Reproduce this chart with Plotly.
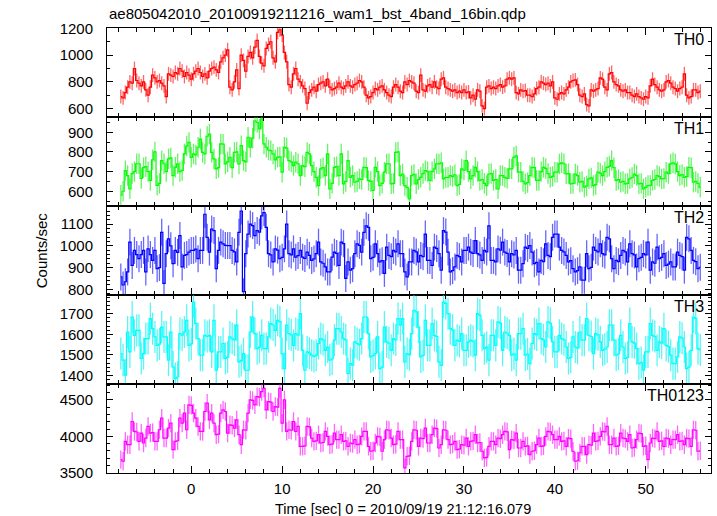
import numpy as np
import plotly.graph_objects as go
from plotly.subplots import make_subplots

# ---------------- data (0.25 s bins, first bin centre -7.75 s) ----------------
t_start = -7.75
bin_width = 0.25

th0 = [690, 680, 720, 760, 800, 790, 900, 810, 790, 770, 800, 740, 700, 760, 850, 830,
       800, 810, 790, 770, 690, 860, 850, 840, 870, 860, 900, 880, 840, 870, 850, 820,
       860, 880, 900, 870, 840, 860, 830, 880, 900, 910, 890, 870, 950, 980, 1000, 1040,
       760, 740, 800, 890, 750, 1000, 960, 880, 990, 1020, 980, 1060, 1110, 990, 940, 920,
       1050, 1080, 1100, 980, 950, 1170, 1190, 1150, 1020, 950, 780, 760, 860, 900, 820, 800,
       770, 750, 640, 720, 740, 760, 730, 780, 790, 800, 770, 820, 760, 740, 750, 760,
       790, 760, 750, 770, 800, 770, 760, 780, 790, 810, 800, 760, 700, 680, 690, 720,
       750, 740, 760, 770, 740, 720, 700, 690, 760, 780, 760, 730,
       720, 800, 780, 810, 800, 790, 730, 720, 850, 740, 730, 770, 780, 760, 800, 760,
       750, 820, 830, 760, 750, 740, 730, 740, 720, 730, 720, 740, 720, 725, 680, 700,
       670, 740, 730, 620, 600, 760, 770, 750, 760, 750, 770, 780, 760, 770, 820, 830,
       820, 830, 720, 710, 740, 730, 735, 700, 700, 690, 710, 750, 760, 800, 790, 780,
       790, 770, 800, 680, 670, 710, 720, 710, 740, 760, 800, 810, 815, 780, 700, 690,
       710, 630, 620, 740, 730, 740, 750, 830, 820, 760, 740, 860, 870, 800, 780, 770,
       740, 730, 740, 720, 720, 700, 690, 710, 690, 680, 670, 690, 680, 770, 820, 780,
       760, 740, 730, 740, 800, 810, 790, 760, 750, 730, 750, 760, 860, 700, 680, 690,
       740, 740, 720, 730]

th1 = [580, 600, 705, 680, 612, 690, 700, 740, 740, 665, 720, 725, 700, 655, 760, 800,
       630, 640, 756, 740, 700, 765, 770, 680, 722, 740, 700, 706, 790, 830, 849, 773,
       790, 785, 824, 866, 798, 790, 880, 891, 798, 765, 714, 720, 841, 840, 739, 750,
       773, 720, 798, 800, 739, 832, 756, 750, 875, 824, 870, 959, 950, 917, 968, 841,
       824, 810, 807, 790, 760, 773, 775, 697, 824, 820, 756, 750, 731, 748, 740, 680,
       731, 725, 798, 790, 731, 700, 671, 629, 714, 720, 680, 790, 612, 640, 722, 725,
       680, 790, 638, 650, 756, 671, 680, 646, 650, 663, 660, 722, 720, 655, 650, 604,
       722, 700, 629, 640, 697, 739, 740, 638, 640, 798, 800, 680,
       688, 629, 620, 561, 680, 686, 638, 660, 671, 690, 705, 700, 655, 700, 714, 740,
       739, 745, 663, 670, 671, 680, 675, 684, 629, 635, 714, 708, 756, 700, 663, 680,
       722, 700, 655, 660, 640, 629, 688, 690, 655, 660, 612, 680, 680, 671, 666, 714,
       714, 773, 780, 697, 697, 650, 638, 644, 680, 722, 720, 655, 655, 700, 722, 716,
       690, 671, 676, 697, 697, 739, 745, 740, 688, 690, 638, 640, 688, 680, 646, 650,
       621, 627, 663, 668, 629, 634, 697, 692, 680, 700, 722, 727, 756, 720, 655, 660,
       646, 650, 638, 640, 663, 670, 688, 680, 638, 640, 612, 620, 629, 630, 655, 660,
       680, 675, 663, 665, 697, 690, 739, 745, 739, 700, 680, 685, 671, 675, 722, 720,
       646, 650, 640, 620]

th2 = [857, 820, 835, 880, 1017, 910, 979, 960, 941, 960, 979, 880, 986, 960, 933, 979,
       895, 900, 1062, 827, 964, 1032, 1000, 918, 979, 970, 1047, 903, 956, 960, 971, 979,
       979, 985, 941, 979, 979, 1145, 1039, 971, 1077, 1070, 895, 979, 1017, 1009, 1002, 1001,
       1001, 979, 972, 926, 1062, 1160, 789, 964, 1054, 1100, 1093, 1047, 1070, 1063, 1138, 1153,
       1085, 964, 958, 926, 986, 980, 941, 947, 986, 1100, 964, 958, 986, 948, 955, 979,
       948, 942, 971, 956, 933, 940, 964, 1017, 926, 920, 903, 880, 880, 948, 971, 965,
       910, 1017, 1010, 850, 926, 888, 895, 964, 1009, 1002, 971, 1062, 1092, 1085, 941, 947,
       1009, 964, 926, 932, 873, 994, 956, 950, 979, 972, 1009, 964,
       964, 880, 857, 926, 926, 979, 972, 926, 956, 950, 1054, 933, 933, 910, 994, 988,
       964, 888, 1070, 1063, 971, 880, 886, 903, 956, 950, 926, 979, 979, 994, 971, 965,
       1024, 964, 958, 933, 979, 972, 1092, 933, 933, 926, 986, 980, 1017, 971, 965, 926,
       964, 958, 979, 888, 888, 918, 994, 988, 1001, 971, 918, 924, 880, 933, 927, 1009,
       956, 950, 1039, 1054, 1054, 994, 979, 972, 956, 926, 932, 895, 880, 886, 903, 842,
       842, 964, 895, 901, 994, 979, 972, 1009, 964, 958, 1039, 1032, 941, 895, 933, 927,
       956, 979, 972, 926, 1009, 964, 958, 903, 941, 947, 964, 958, 1017, 888, 926, 920,
       994, 941, 947, 964, 910, 916, 926, 903, 903, 971, 956, 950, 888, 1039, 1032, 979,
       933, 927, 895, 901]

th3 = [1506, 1474, 1401, 1611, 1514, 1684, 1595, 1619, 1619, 1482, 1506, 1579, 1579, 1676, 1627, 1587,
       1546, 1552, 1635, 1587, 1587, 1474, 1611, 1441, 1385, 1392, 1603, 1596, 1611, 1668, 1546, 1553,
       1757, 1652, 1579, 1498, 1498, 1595, 1589, 1595, 1514, 1668, 1425, 1514, 1514, 1555, 1482, 1489,
       1587, 1579, 1572, 1644, 1466, 1472, 1506, 1425, 1425, 1611, 1684, 1603, 1530, 1537, 1595, 1530,
       1530, 1587, 1652, 1645, 1619, 1668, 1661, 1506, 1433, 1644, 1603, 1597, 1546, 1603, 1596, 1700,
       1522, 1425, 1514, 1508, 1498, 1492, 1498, 1555, 1579, 1573, 1522, 1538, 1474, 1480, 1571, 1627,
       1627, 1611, 1579, 1573, 1409, 1457, 1450, 1563, 1555, 1549, 1579, 1684, 1684, 1603, 1490, 1496,
       1506, 1587, 1433, 1440, 1635, 1563, 1557, 1522, 1579, 1572, 1676, 1644,
       1676, 1466, 1506, 1500, 1603, 1716, 1709, 1635, 1490, 1497, 1668, 1546, 1546, 1652, 1595, 1589,
       1466, 1449, 1757, 1750, 1700, 1627, 1621, 1546, 1571, 1565, 1603, 1522, 1522, 1563, 1571, 1565,
       1498, 1700, 1693, 1595, 1530, 1537, 1474, 1595, 1595, 1546, 1660, 1654, 1522, 1611, 1605, 1595,
       1498, 1505, 1474, 1603, 1603, 1627, 1498, 1504, 1457, 1555, 1603, 1597, 1652, 1579, 1573, 1538,
       1660, 1654, 1563, 1514, 1514, 1595, 1579, 1573, 1538, 1482, 1488, 1587, 1538, 1532, 1611, 1571,
       1571, 1676, 1595, 1589, 1506, 1603, 1597, 1563, 1522, 1528, 1538, 1644, 1644, 1571, 1498, 1504,
       1595, 1538, 1482, 1488, 1652, 1563, 1557, 1530, 1457, 1463, 1425, 1514, 1514, 1652, 1595, 1589,
       1522, 1563, 1557, 1627, 1546, 1540, 1498, 1457, 1457, 1490, 1587, 1581, 1538, 1433, 1440, 1522,
       1684, 1677, 1530, 1524]

th0123 = [3682, 3659, 3932, 3886, 3886, 4204, 4068, 4060, 3932, 4045, 3909, 3977, 4136, 4045, 4052, 3932,
          3932, 4091, 4250, 3977, 3977, 4114, 4182, 3818, 3932, 3940, 4250, 4182, 4318, 4091, 4432, 4425,
          4318, 4250, 4136, 4068, 4068, 4341, 4455, 4227, 4318, 4182, 4023, 4030, 4318, 4364, 4341, 4045,
          4159, 4152, 4114, 4227, 4023, 3886, 4091, 4084, 4318, 4500, 4493, 4432, 4545, 4538, 4614, 4659,
          4364, 4477, 4470, 4341, 4409, 4402, 4659, 4182, 4500, 4068, 4091, 4084, 4204, 4068, 4136, 3864,
          3864, 3871, 4136, 4129, 3977, 3932, 3939, 4023, 3909, 3916, 4068, 4000, 3886, 3893, 4045, 3955,
          3955, 4023, 3932, 3939, 3864, 3909, 3902, 3955, 3886, 3893, 4000, 4068, 4068, 3864, 3796, 3803,
          3909, 4000, 3993, 3796, 3955, 4091, 4084, 3977, 3886, 3893, 4068, 3955,
          3955, 3568, 3727, 3734, 3932, 4091, 4084, 3864, 3977, 3970, 4114, 3909, 3909, 4023, 4114, 4107,
          3841, 3886, 4091, 4084, 3955, 3886, 3893, 3932, 3818, 3825, 3886, 3879, 3977, 3864, 3932, 3939,
          4023, 3909, 3916, 3796, 3705, 3712, 3864, 3932, 3932, 3886, 3977, 3970, 4023, 4068, 4061, 3818,
          3955, 3948, 4045, 3841, 3841, 3932, 3864, 3871, 3750, 3796, 3803, 3886, 3977, 3864, 3871, 4000,
          4068, 4061, 4023, 3955, 3955, 4000, 3932, 3939, 3864, 3977, 3970, 3796, 3659, 3666, 3773, 3864,
          3864, 3750, 3886, 3879, 4045, 3932, 3939, 4000, 4068, 4061, 4136, 3886, 3886, 3977, 3864, 3871,
          4045, 3977, 3970, 3932, 4023, 3841, 3848, 3955, 4045, 4038, 3864, 3871, 3682, 3909, 3977, 3970,
          4068, 3932, 3939, 3864, 3977, 3970, 3886, 3955, 3955, 4023, 3932, 3939, 3886, 3977, 3970, 3864,
          4091, 4084, 3796, 3803]

# 1-sigma errors per panel (counts/sec, 0.25 s bins)
errors = [52, 52, 62, 78, 126]

panel_names = ["TH0", "TH1", "TH2", "TH3", "TH0123"]
series = [th0, th1, th2, th3, th0123]
y_ranges = [[537, 1203], [525, 978], [774, 1183], [1358, 1791], [3498, 4718]]
y_ticks = [[600, 800, 1000, 1200], [600, 700, 800, 900], [800, 900, 1000, 1100],
           [1400, 1500, 1600, 1700], [3500, 4000, 4500]]
y_minor = [100, 50, 20, 20, 100]
x_ticks = [0, 10, 20, 30, 40, 50]

title_text = "ae805042010_20100919211216_wam1_bst_4band_16bin.qdp"
x_title = "Time [sec] 0 = 2010/09/19 21:12:16.079"
y_title = "Counts/sec"

# ---------------- styles ----------------
line_colors = ["rgb(255,0,0)", "rgb(0,255,0)", "rgb(0,0,255)", "rgb(0,255,255)", "rgb(255,0,255)"]
err_colors = ["rgba(255,0,0,0.6)", "rgba(0,235,0,0.6)", "rgba(0,0,255,0.6)",
              "rgba(0,240,240,0.65)", "rgba(255,0,255,0.6)"]
FONT = "Liberation Sans, Arial, Helvetica, sans-serif"

fig = make_subplots(rows=5, cols=1, shared_xaxes=True, vertical_spacing=0)

for i, (vals, name) in enumerate(zip(series, panel_names)):
    t = t_start + bin_width * np.arange(len(vals))
    fig.add_trace(go.Scatter(
        x=t, y=vals, mode="lines", name=name,
        line=dict(color=line_colors[i], width=1.2, shape="hvh"),
        error_y=dict(type="constant", value=errors[i], thickness=1.3, width=0,
                     color=err_colors[i]),
        hoverinfo="skip"), row=i + 1, col=1)

    fig.update_yaxes(row=i + 1, col=1, range=y_ranges[i], tickvals=y_ticks[i],
                     ticks="inside", ticklen=6, tickcolor="black", mirror="allticks",
                     showline=True, linecolor="black", linewidth=1, showgrid=False,
                     zeroline=False, ticklabelstandoff=10,
                     tickfont=dict(family=FONT, size=15, color="black"),
                     minor=dict(dtick=y_minor[i], tick0=0, ticks="inside", ticklen=3,
                                tickcolor="black", showgrid=False))
    fig.update_xaxes(row=i + 1, col=1, range=[-9.27, 57.18], tickvals=x_ticks,
                     ticks="inside", ticklen=7, tickcolor="black", mirror="allticks",
                     showline=True, linecolor="black", linewidth=1, showgrid=False,
                     zeroline=False, ticklabelstandoff=2,
                     tickfont=dict(family=FONT, size=15, color="black"),
                     minor=dict(dtick=2, tick0=0, ticks="inside", ticklen=4,
                                tickcolor="black", showgrid=False))

    yref = "y domain" if i == 0 else f"y{i + 1} domain"
    fig.add_annotation(text=name, xref="paper", x=0.992, xanchor="right",
                       yref=yref, y=1, yanchor="top", yshift=-1, showarrow=False,
                       font=dict(family=FONT, size=16, color="black"))

fig.add_annotation(text=title_text, xref="paper", x=0, xanchor="left",
                   yref="paper", y=1, yanchor="bottom", yshift=4, showarrow=False,
                   font=dict(family=FONT, size=15, color="black"))
fig.add_annotation(text=x_title, xref="paper", x=0.49, xanchor="center",
                   yref="paper", y=-0.0966, yanchor="bottom", yshift=-2, borderpad=0,
                   showarrow=False, font=dict(family=FONT, size=14.5, color="black"))
fig.add_annotation(text=y_title, xref="paper", x=-0.108, xanchor="center",
                   yref="paper", y=0.5, yanchor="middle", textangle=-90, showarrow=False,
                   font=dict(family=FONT, size=15, color="black"))

fig.update_layout(width=717, height=516, margin=dict(l=107, r=6, t=28, b=43),
                  plot_bgcolor="white", paper_bgcolor="white", showlegend=False,
                  font=dict(family=FONT, size=15, color="black"))

fig.write_html("out.html", config={"displayModeBar": False, "staticPlot": True})

# remove the browser's default page margin so the figure sits at (0, 0)
with open("out.html", "r", encoding="utf-8") as f:
    html = f.read()
html = html.replace("<head>", "<head><style>html,body{margin:0;padding:0;overflow:hidden;}</style>", 1)
with open("out.html", "w", encoding="utf-8") as f:
    f.write(html)
